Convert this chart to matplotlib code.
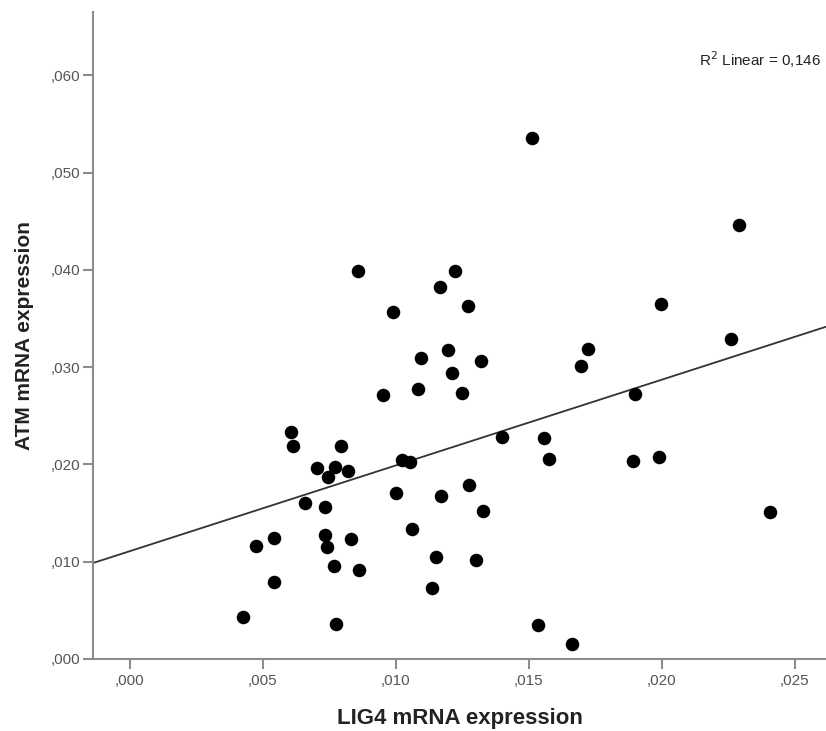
import numpy as np
import matplotlib.pyplot as plt
from matplotlib.ticker import FuncFormatter

plt.rcParams['font.family'] = ['Liberation Sans', 'DejaVu Sans']

# LIG4 vs ATM mRNA expression
lig4 = [0.00425, 0.00474, 0.00541, 0.00541, 0.00607, 0.00613, 0.00658, 0.00703,
        0.00733, 0.00733, 0.00741, 0.00744, 0.00771, 0.00767, 0.00774, 0.00793,
        0.00820, 0.00831, 0.00861, 0.00857, 0.00951, 0.00989, 0.01000, 0.01023,
        0.01053, 0.01060, 0.01083, 0.01094, 0.01135, 0.01150, 0.01165, 0.01169,
        0.01195, 0.01211, 0.01222, 0.01248, 0.01271, 0.01274, 0.01301, 0.01320,
        0.01327, 0.01398, 0.01511, 0.01534, 0.01556, 0.01575, 0.01662, 0.01695,
        0.01722, 0.01891, 0.01898, 0.01989, 0.01996, 0.02289, 0.02259, 0.02406]
atm = [0.00432, 0.01161, 0.01243, 0.00791, 0.02328, 0.02189, 0.01603, 0.01963,
       0.01562, 0.01274, 0.01151, 0.01870, 0.01973, 0.00956, 0.00360, 0.02189,
       0.01932, 0.01233, 0.00914, 0.03987, 0.02713, 0.03566, 0.01706, 0.02045,
       0.02025, 0.01331, 0.02775, 0.03094, 0.00730, 0.01053, 0.03823, 0.01675,
       0.03176, 0.02938, 0.03987, 0.02733, 0.03628, 0.01788, 0.01017, 0.03063,
       0.01521, 0.02282, 0.05354, 0.00350, 0.02271, 0.02055, 0.00154, 0.03012,
       0.03187, 0.02035, 0.02723, 0.02076, 0.03649, 0.04460, 0.03289, 0.01511]
r2_label = '0,146'   # as printed on the chart

x = np.array(lig4)
y = np.array(atm)
slope, intercept = np.polyfit(x, y, 1)

fig = plt.figure(figsize=(8.26, 7.31), dpi=100)
ax = fig.add_axes([0.1126, 0.0985, 0.8874, 0.8851])

ax.scatter(x, y, s=95, color='black', zorder=3, linewidths=0)

# fitted line across the whole plot width
xlim = (-0.00139, 0.02617)
xs = np.array(xlim)
ax.plot(xs, intercept + slope * xs, color='#333333', lw=1.3, zorder=2)

ax.set_xlim(xlim)
ax.set_ylim(0, 0.0665)
ax.set_xticks([0, 0.005, 0.010, 0.015, 0.020, 0.025])
ax.set_yticks([0, 0.010, 0.020, 0.030, 0.040, 0.050, 0.060])

# SPSS style labels: ,005 instead of 0.005
fmt = FuncFormatter(lambda v, pos: ('%.3f' % v).replace('0.', ',', 1))
ax.xaxis.set_major_formatter(fmt)
ax.yaxis.set_major_formatter(fmt)

for side in ['top', 'right']:
    ax.spines[side].set_visible(False)
for side in ['left', 'bottom']:
    ax.spines[side].set_color('#8c8c8c')
    ax.spines[side].set_linewidth(1.5)

ax.tick_params(axis='both', colors='#8c8c8c', length=7, width=1.5,
               labelsize=11, labelcolor='#555555', direction='out')
ax.tick_params(axis='x', pad=4)
ax.tick_params(axis='y', pad=2)

ax.set_xlabel('LIG4 mRNA expression', fontsize=16, fontweight='bold',
              color='#222222', labelpad=14)
ax.set_ylabel('ATM mRNA expression', fontsize=15, fontweight='bold',
              color='#222222', labelpad=12)

ax.text(0.993, 0.926, 'R$^2$ Linear = ' + r2_label,
        transform=ax.transAxes, ha='right', va='center', fontsize=11,
        color='#222222')

fig.savefig('out.png', dpi=100)
